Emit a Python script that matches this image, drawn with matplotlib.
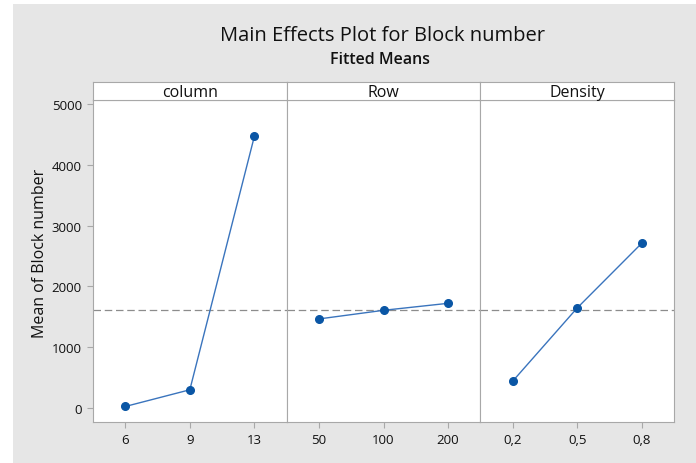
import matplotlib.pyplot as plt
from matplotlib.patches import Rectangle

factors = ['column', 'Row', 'Density']
levels = [['6', '9', '13'], ['50', '100', '200'], ['0,2', '0,5', '0,8']]
means = [[25, 300, 4470], [1465, 1607, 1722], [440, 1645, 2710]]
grand_mean = 1605
yticks = [0, 1000, 2000, 3000, 4000, 5000]

plt.rcParams['font.family'] = ['Open Sans', 'DejaVu Sans']
frame = '#a8a8a8'
blue = '#0a56a5'

fig = plt.figure(figsize=(6.96, 4.64), dpi=100)
fig.patches.append(Rectangle((13 / 696, 0), 1, 1 - 5 / 464, transform=fig.transFigure,
                             facecolor='#e6e6e6', edgecolor='none', zorder=-10))

left, right = 93 / 696, 674 / 696
bottom, top = 1 - 423 / 464, 1 - 101 / 464
strip_top = 1 - 83 / 464
w = (right - left) / 3

for i, name in enumerate(factors):
    ax = fig.add_axes([left + i * w, bottom, w, top - bottom])
    x = range(len(levels[i]))
    ax.axhline(grand_mean, color='#8c8c8c', lw=0.9, ls=(0, (6, 3)), zorder=1)
    ax.plot(x, means[i], color='#3a74bd', lw=1.0, marker='o', ms=5.5,
            mfc=blue, mec=blue, zorder=3)
    ax.set_xlim(-0.5, 2.5)
    ax.set_ylim(-230, 5066)
    ax.set_xticks(list(x))
    ax.set_xticklabels(levels[i], fontsize=9.5, color='#111111')
    for s in ax.spines.values():
        s.set_color(frame)
    ax.tick_params(colors=frame, labelcolor='#111111', length=4, width=0.8, pad=4)
    if i == 0:
        ax.set_yticks(yticks)
        ax.set_yticklabels([str(v) for v in yticks], fontsize=9.5)
    else:
        ax.set_yticks([])

    sax = fig.add_axes([left + i * w, top, w, strip_top - top])
    sax.set_xticks([])
    sax.set_yticks([])
    for s in sax.spines.values():
        s.set_color(frame)
    sax.text(0.5, 0.45, name, ha='center', va='center', fontsize=11.5,
             color='#111111', transform=sax.transAxes)

fig.text(40 / 696, 1 - 253 / 464, 'Mean of Block number', rotation=90,
         ha='center', va='center', fontsize=11.5, color='#111111')
fig.text(382 / 696, 1 - 36 / 464, 'Main Effects Plot for Block number',
         ha='center', va='center', fontsize=14.5, color='#111111')
fig.text(380 / 696, 1 - 60 / 464, 'Fitted Means', ha='center', va='center',
         fontsize=11.5, fontweight='semibold', color='#111111')

fig.savefig('out.png', dpi=100)
